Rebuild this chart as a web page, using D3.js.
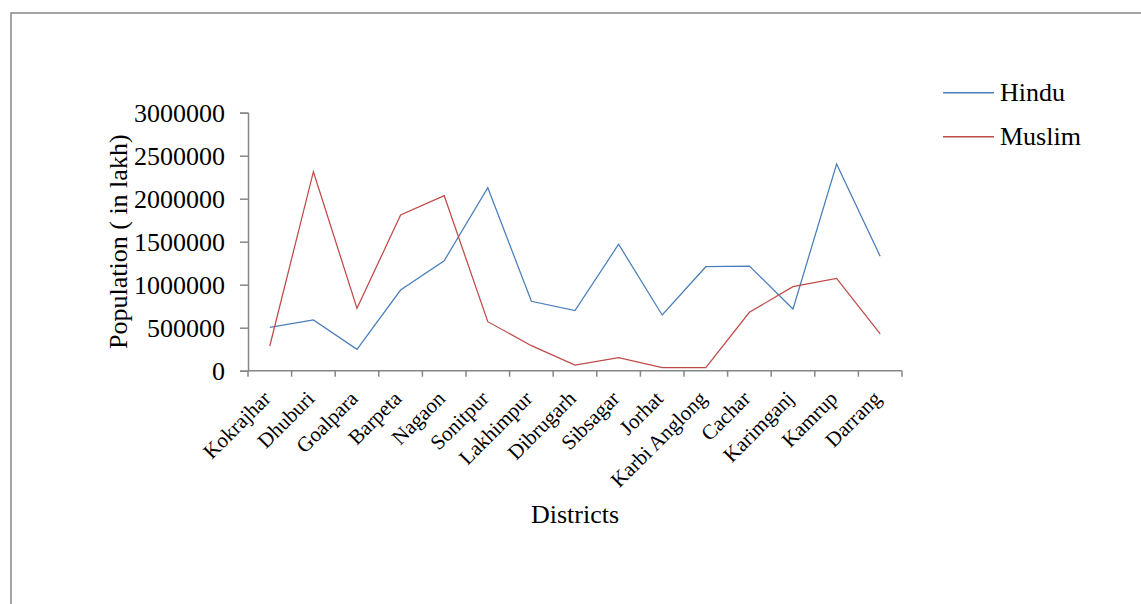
<!DOCTYPE html>
<html lang="en">

<head>
    <meta charset="UTF-8">
    <meta name="viewport" content="width=device-width, initial-scale=1.0">
    <script src="https://cdn.jsdelivr.net/npm/d3@7"></script>
    <title>Hindu and Muslim population by district</title>
    <style>
        body {
            margin: 0;
            background: white;
        }

        svg text {
            font-family: "Liberation Serif", "Times New Roman", serif !important;
            fill: black;
        }

        .axis path,
        .axis line {
            stroke: #868686;
            stroke-width: 1.5px;
        }
    </style>
</head>

<body>
    <script>
        /*-------------------------------------------------------*/
        /*------------------------ Data -------------------------*/
        /*-------------------------------------------------------*/
        const districts = ["Kokrajhar", "Dhuburi", "Goalpara", "Barpeta", "Nagaon", "Sonitpur",
            "Lakhimpur", "Dibrugarh", "Sibsagar", "Jorhat", "Karbi Anglong", "Cachar",
            "Karimganj", "Kamrup", "Darrang"]

        const hindu = [505000, 590000, 249000, 938000, 1279000, 2128000, 807000, 698000,
            1470000, 648000, 1209000, 1217000, 717000, 2403000, 1330000]

        const muslim = [287000, 2314000, 725000, 1810000, 2035000, 570000, 291000, 66000,
            151000, 35000, 35000, 679000, 977000, 1074000, 427000]

        const yTicks = [0, 500000, 1000000, 1500000, 2000000, 2500000, 3000000]

        const seriesNames = ["Hindu", "Muslim"]
        const seriesColors = ["#4a7ebb", "#be4b48"]

        /*-------------------------------------------------------*/
        /*------------------- Window setting --------------------*/
        /*-------------------------------------------------------*/
        const width = 1141
        const height = 604
        const plot = { left: 248, right: 902, top: 112.7, bottom: 370.7 }

        const svg = d3.select("body").append("svg")
            .attr("width", width)
            .attr("height", height)

        // outer frame of the chart area (runs off the right and bottom edge)
        svg.append("rect")
            .attr("x", 11)
            .attr("y", 13)
            .attr("width", width + 20)
            .attr("height", height + 20)
            .attr("fill", "none")
            .attr("stroke", "#868686")
            .attr("stroke-width", 1.5)

        /*-------------------------------------------------------*/
        /*------------------------ Scales -----------------------*/
        /*-------------------------------------------------------*/
        const x = d3.scaleBand()
            .domain(districts)
            .range([plot.left, plot.right])

        const y = d3.scaleLinear()
            .domain([0, 3000000])
            .range([plot.bottom, plot.top])

        /*-------------------------------------------------------*/
        /*------------------------- Axes ------------------------*/
        /*-------------------------------------------------------*/
        const yAxis = svg.append("g")
            .attr("class", "axis")
            .attr("transform", `translate(${plot.left},0)`)
            .call(d3.axisLeft(y).tickValues(yTicks).tickFormat(d3.format("d")).tickSize(8).tickSizeOuter(8))
        yAxis.attr("font-family", "Liberation Serif")
        yAxis.selectAll("text")
            .attr("x", -23)
            .attr("dy", "0.33em")
            .style("font-size", "26px")

        // x axis: ticks sit on the category boundaries, like Excel
        const xAxis = svg.append("g")
            .attr("class", "axis")
            .attr("transform", `translate(0,${plot.bottom})`)
        xAxis.append("line")
            .attr("x1", plot.left)
            .attr("x2", plot.right)
        xAxis.selectAll(".tick-mark")
            .data(districts.concat(["end"]))
            .enter()
            .append("line")
            .attr("class", "tick-mark")
            .attr("x1", (d, i) => i < districts.length ? x(d) : plot.right)
            .attr("x2", (d, i) => i < districts.length ? x(d) : plot.right)
            .attr("y1", 0)
            .attr("y2", 6)

        xAxis.selectAll(".cat-label")
            .data(districts)
            .enter()
            .append("text")
            .attr("class", "cat-label")
            .attr("text-anchor", "end")
            .attr("transform", d => `translate(${x(d) + x.bandwidth() / 2 - 3},${24}) rotate(-45)`)
            .attr("dy", "0.35em")
            .style("font-size", "21px")
            .text(d => d)

        /*-------------------------------------------------------*/
        /*----------------------- Titles ------------------------*/
        /*-------------------------------------------------------*/
        svg.append("text")
            .attr("transform", `translate(118,${(plot.top + plot.bottom) / 2}) rotate(-90)`)
            .attr("text-anchor", "middle")
            .attr("dy", "0.33em")
            .style("font-size", "26px")
            .text("Population ( in lakh)")

        svg.append("text")
            .attr("x", (plot.left + plot.right) / 2)
            .attr("y", 523)
            .attr("text-anchor", "middle")
            .style("font-size", "26px")
            .text("Districts")

        /*-------------------------------------------------------*/
        /*------------------------ Lines ------------------------*/
        /*-------------------------------------------------------*/
        const line = d3.line()
            .x((d, i) => x(districts[i]) + x.bandwidth() / 2)
            .y(d => y(d))

        svg.selectAll(".series")
            .data([hindu, muslim])
            .enter()
            .append("path")
            .attr("class", "series")
            .attr("d", d => line(d))
            .attr("fill", "none")
            .attr("stroke", (d, i) => seriesColors[i])
            .attr("stroke-width", 1.25)

        /*-------------------------------------------------------*/
        /*------------------------ Legend -----------------------*/
        /*-------------------------------------------------------*/
        const legend = svg.selectAll(".legend")
            .data(seriesNames)
            .enter()
            .append("g")
            .attr("class", "legend")
            .attr("transform", (d, i) => `translate(943,${92.7 + i * 44})`)

        legend.append("line")
            .attr("x1", 0)
            .attr("x2", 51)
            .attr("stroke", (d, i) => seriesColors[i])
            .attr("stroke-width", 1.5)

        legend.append("text")
            .attr("x", 57)
            .attr("dy", "0.33em")
            .style("font-size", "26px")
            .text(d => d)
    </script>
</body>

</html>
